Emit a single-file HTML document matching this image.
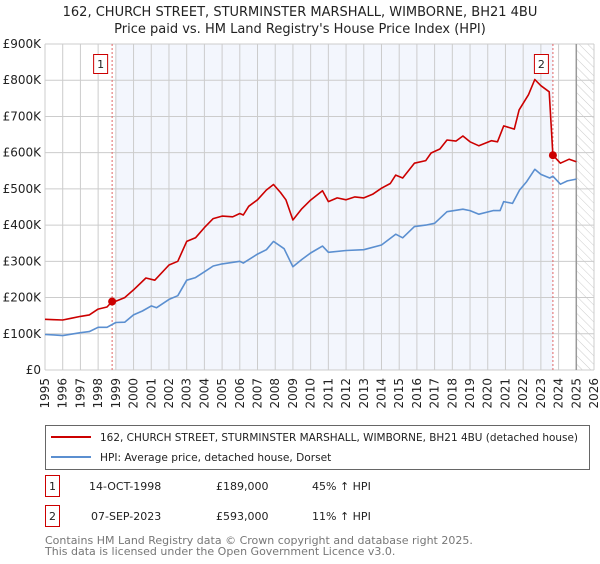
<!DOCTYPE html>
<html><head><meta charset="utf-8"><style>
body{margin:0;background:#fff;font-family:"DejaVu Sans","Liberation Sans",sans-serif;}
svg text{font-family:"DejaVu Sans","Liberation Sans",sans-serif;}
</style></head><body>
<svg id="chart" width="600" height="560" xmlns="http://www.w3.org/2000/svg">
<text x="300" y="16" font-size="13" text-anchor="middle" fill="#222">162, CHURCH STREET, STURMINSTER MARSHALL, WIMBORNE, BH21 4BU</text>
<text x="300" y="33" font-size="13" text-anchor="middle" fill="#222">Price paid vs. HM Land Registry's House Price Index (HPI)</text>
<defs><pattern id="hatch" width="6" height="6" patternUnits="userSpaceOnUse" patternTransform="rotate(-45)"><line x1="0" y1="0" x2="0" y2="6" stroke="#ccc" stroke-width="1"/></pattern></defs>
<g id="plot"></g>
<g>
<rect x="45.5" y="425.5" width="544" height="44" fill="#fff" stroke="#666"/>
<line x1="51" y1="437" x2="91" y2="437" stroke="#cc0000" stroke-width="2"/>
<text x="100" y="441" font-size="10.6" textLength="478" lengthAdjust="spacingAndGlyphs" fill="#222">162, CHURCH STREET, STURMINSTER MARSHALL, WIMBORNE, BH21 4BU (detached house)</text>
<line x1="51" y1="457" x2="91" y2="457" stroke="#5b8fd0" stroke-width="2"/>
<text x="100" y="461" font-size="10.6" fill="#222">HPI: Average price, detached house, Dorset</text>
</g>
<g font-size="11" fill="#222">
<rect x="45.5" y="475.5" width="14" height="21" fill="#fff" stroke="#cc0000"/>
<text x="52.5" y="490" text-anchor="middle">1</text>
<text x="89" y="490">14-OCT-1998</text><text x="216" y="490">£189,000</text><text x="312" y="490">45% ↑ HPI</text>
<rect x="45.5" y="505.5" width="14" height="21" fill="#fff" stroke="#cc0000"/>
<text x="52.5" y="520" text-anchor="middle">2</text>
<text x="91" y="520">07-SEP-2023</text><text x="216" y="520">£593,000</text><text x="312" y="520">11% ↑ HPI</text>
</g>
<text x="45" y="544" font-size="11" fill="#777">Contains HM Land Registry data © Crown copyright and database right 2025.</text>
<text x="45" y="555" font-size="11" fill="#777">This data is licensed under the Open Government Licence v3.0.</text>
</svg>
<script>
const propYears=[1995,1995.5,1996,1996.5,1997,1997.5,1998,1998.5,1998.79,1999,1999.5,2000,2000.7,2001.2,2002,2002.5,2003,2003.5,2004,2004.5,2005,2005.6,2006,2006.2,2006.5,2007,2007.5,2007.9,2008.3,2008.6,2009,2009.5,2010,2010.67,2011,2011.5,2012,2012.5,2013,2013.5,2014,2014.5,2014.8,2015.2,2015.86,2016.5,2016.8,2017.3,2017.7,2018.2,2018.6,2019.0,2019.5,2020.2,2020.55,2020.9,2021.5,2021.77,2022.3,2022.66,2023.0,2023.47,2023.68,2024.1,2024.6,2025];
const propValues=[140,139,138,143,148,152,168,174,189,190,200,221,254,248,290,300,355,365,393,418,425,423,432,428,452,470,497,512,490,470,414,445,469,495,465,475,470,478,475,485,502,515,538,530,571,578,599,610,635,632,646,630,619,633,630,674,665,718,760,802,785,768,593,571,582,575];
const hpiYears=[1995,1995.5,1996,1997,1997.5,1998,1998.5,1999,1999.5,2000,2000.5,2001,2001.3,2002,2002.5,2003,2003.5,2004,2004.5,2005,2006,2006.2,2007,2007.5,2007.9,2008.5,2009,2009.5,2010,2010.67,2011,2012,2013,2014,2014.8,2015.2,2015.86,2016.5,2017,2017.7,2018.6,2019,2019.5,2020.3,2020.7,2020.9,2021.4,2021.8,2022.2,2022.66,2023,2023.5,2023.68,2024.1,2024.5,2025];
const hpiValues=[98,97,95,103,106,118,118,131,132,152,163,177,172,195,205,248,255,271,287,293,300,295,320,332,355,335,285,305,323,342,325,330,332,345,375,365,396,400,405,437,444,440,430,440,440,465,460,497,520,554,540,530,535,513,522,527];
const saleYears=[1998.79,2023.68];
const saleValues=[189,593];
const saleLabels=['1','2'];
const yTicks=[0,100,200,300,400,500,600,700,800,900];
const yTickLabels=['£0','£100K','£200K','£300K','£400K','£500K','£600K','£700K','£800K','£900K'];
const xTicks=[1995,1996,1997,1998,1999,2000,2001,2002,2003,2004,2005,2006,2007,2008,2009,2010,2011,2012,2013,2014,2015,2016,2017,2018,2019,2020,2021,2022,2023,2024,2025,2026];

const X0=45,X1=594,Y0=370,Y1=44;
const xs=y=>X0+(y-1995)/(2026-1995)*(X1-X0);
const ys=v=>Y0-v/900*(Y0-Y1);
const NS='http://www.w3.org/2000/svg';
const plot=document.getElementById('plot');
function mk(tag,attrs,parent){const e=document.createElementNS(NS,tag);for(const k in attrs)e.setAttribute(k,attrs[k]);(parent||plot).appendChild(e);return e;}

let r=mk('rect',{x:X0,y:Y1,width:X1-X0,height:Y0-Y1,fill:'#fff'});


r=mk('rect',{x:xs(saleYears[0])+4,y:Y1,width:xs(saleYears[1])-xs(saleYears[0])-4,height:Y0-Y1,fill:'#f3f6fd'});


r=mk('rect',{x:xs(2025),y:Y1,width:X1-xs(2025),height:Y0-Y1,fill:'url(#hatch)'});



xTicks.forEach(t=>{
 const l=mk('line',{x1:xs(t),x2:xs(t),y1:Y1,y2:Y0,stroke:'#ccc','stroke-width':1});
 
 
 const tx=mk('text',{x:0,y:0,'font-size':12,fill:'#222','text-anchor':'end',transform:`translate(${xs(t)+4},${Y0+8}) rotate(-90)`});
 tx.textContent=t;
 
 
});
yTicks.forEach((t,i)=>{
 const l=mk('line',{x1:X0,x2:X1,y1:ys(t),y2:ys(t),stroke:'#ccc','stroke-width':1});
 
 
 const tx=mk('text',{x:41,y:ys(t)+4,'font-size':12,fill:'#222','text-anchor':'end'});
 tx.textContent=yTickLabels[i];
 
 
});
let b=mk('line',{x1:xs(2025),x2:xs(2025),y1:Y1,y2:Y0,stroke:'#999','stroke-width':1.5});



saleYears.forEach((y,i)=>{
 const l=mk('line',{x1:xs(y),x2:xs(y),y1:Y1,y2:Y0,stroke:'#e06666','stroke-width':1,'stroke-dasharray':'2,2'});
 
 
});

function path(xa,va,color,name){
 const d=xa.map((y,i)=>(i?'L':'M')+xs(y).toFixed(1)+','+ys(va[i]).toFixed(1)).join('');
 const p=mk('path',{d:d,fill:'none',stroke:color,'stroke-width':1.6,'stroke-linejoin':'round'});
 
 
}
path(hpiYears,hpiValues,'#5b8fd0','hpi-line');
path(propYears,propValues,'#cc0000','property-price-line');

saleYears.forEach((y,i)=>{
 const c=mk('circle',{cx:xs(y),cy:ys(saleValues[i]),r:4,fill:'#cc0000'});
 
 
 const bx=mk('rect',{x:xs(y)-18.5,y:54.5,width:14,height:19,fill:'#fff',stroke:'#cc0000'});
 
 
 const t=mk('text',{x:xs(y)-11.5,y:68,'font-size':11,'text-anchor':'middle',fill:'#222'});
 t.textContent=saleLabels[i];
 
 
});
</script>
</body></html>
